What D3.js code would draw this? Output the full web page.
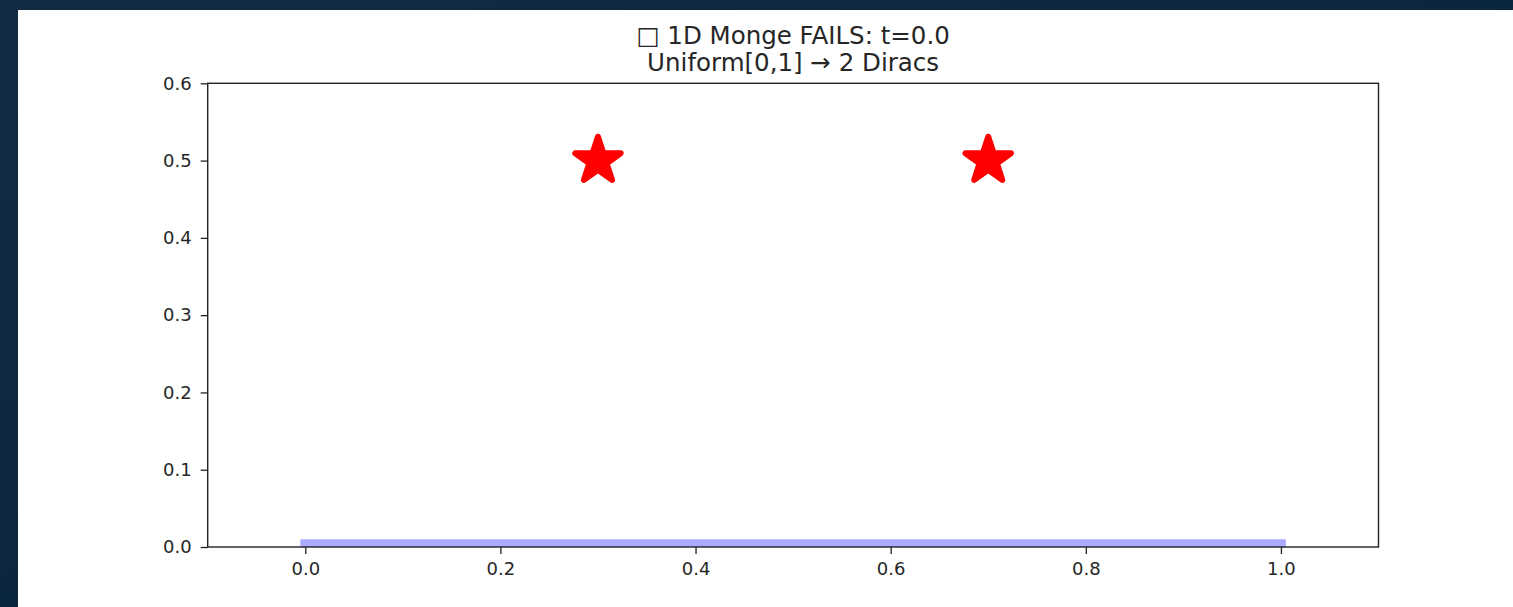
<!DOCTYPE html>
<html>
<head>
<meta charset="utf-8">
<script src="https://cdn.jsdelivr.net/npm/d3@7"></script>
<style>
  html, body { margin: 0; padding: 0; background: #0b2540; }
  svg { display: block; }
  text { font-family: "DejaVu Sans", sans-serif; fill: #262626; }
</style>
</head>
<body>
<script>
// Source mass: uniform density on [0, 1], drawn as a thin strip at the base
const sourceInterval = [-0.005, 1.005];
const sourceHeight = 0.01;
// Target mass: two Dirac points
const diracX = [0.3, 0.7];
const diracY = [0.5, 0.5];
// Axis ticks and limits
const xTicks = [0.0, 0.2, 0.4, 0.6, 0.8, 1.0];
const yTicks = [0.0, 0.1, 0.2, 0.3, 0.4, 0.5, 0.6];
const xLimits = [-0.1, 1.1];
const yLimits = [0.0, 0.6];
const titleLines = ["\u25A1 1D Monge FAILS: t=0.0", "Uniform[0,1] \u2192 2 Diracs"];

const W = 1513, H = 607;
const svg = d3.select("body").append("svg").attr("width", W).attr("height", H);

// Dark page backdrop with a lighter panel for the figure
const defs = svg.append("defs");
const grad = defs.append("linearGradient").attr("id", "bg").attr("x1", 0).attr("y1", 0).attr("x2", 1).attr("y2", 1);
grad.append("stop").attr("offset", "0%").attr("stop-color", "#142c43");
grad.append("stop").attr("offset", "100%").attr("stop-color", "#01203a");
svg.append("rect").attr("width", W).attr("height", H).attr("fill", "url(#bg)");
svg.append("rect").attr("x", 18).attr("y", 10).attr("width", W - 18).attr("height", H - 10).attr("fill", "#ffffff");

const plot = { left: 207.7, right: 1378.5, top: 83.3, bottom: 547 };
const x = d3.scaleLinear().domain(xLimits).range([plot.left, plot.right]);
const y = d3.scaleLinear().domain(yLimits).range([plot.bottom, plot.top]);

// Source strip
svg.append("rect")
  .attr("x", x(sourceInterval[0]))
  .attr("y", y(sourceHeight))
  .attr("width", x(sourceInterval[1]) - x(sourceInterval[0]))
  .attr("height", y(0) - y(sourceHeight))
  .attr("fill", "#aaaaff");

// Dirac targets as stars
const star = d3.symbol().type(d3.symbolStar).size(640);
svg.selectAll("path.dirac")
  .data(diracX.map((d, i) => [d, diracY[i]]))
  .join("path")
  .attr("class", "dirac")
  .attr("d", star)
  .attr("transform", d => `translate(${x(d[0])},${y(d[1])})`)
  .attr("fill", "#ff0000")
  .attr("stroke", "#ff0000")
  .attr("stroke-width", 6)
  .attr("stroke-linejoin", "round");

// Axes
const fontSize = 18;
const xAxis = svg.append("g").attr("transform", `translate(0,${plot.bottom})`)
  .call(d3.axisBottom(x).tickValues(xTicks).tickFormat(d3.format(".1f")).tickSize(7).tickPadding(8));
const yAxis = svg.append("g").attr("transform", `translate(${plot.left},0)`)
  .call(d3.axisLeft(y).tickValues(yTicks).tickFormat(d3.format(".1f")).tickSize(7).tickPadding(9));
[xAxis, yAxis].forEach(g => {
  g.select(".domain").remove();
  g.selectAll(".tick line").attr("stroke", "#222").attr("stroke-width", 1.3);
  g.selectAll(".tick text").attr("font-size", fontSize).attr("font-family", "DejaVu Sans").style("fill", "#262626");
});

// Frame
svg.append("rect")
  .attr("x", plot.left).attr("y", plot.top)
  .attr("width", plot.right - plot.left).attr("height", plot.bottom - plot.top)
  .attr("fill", "none").attr("stroke", "#222").attr("stroke-width", 1.4);

// Title
const title = svg.append("text").attr("text-anchor", "middle").attr("font-size", 24.5);
titleLines.forEach((t, i) => {
  title.append("tspan").attr("x", (plot.left + plot.right) / 2).attr("y", 43.5 + i * 27).text(t);
});
</script>
</body>
</html>
